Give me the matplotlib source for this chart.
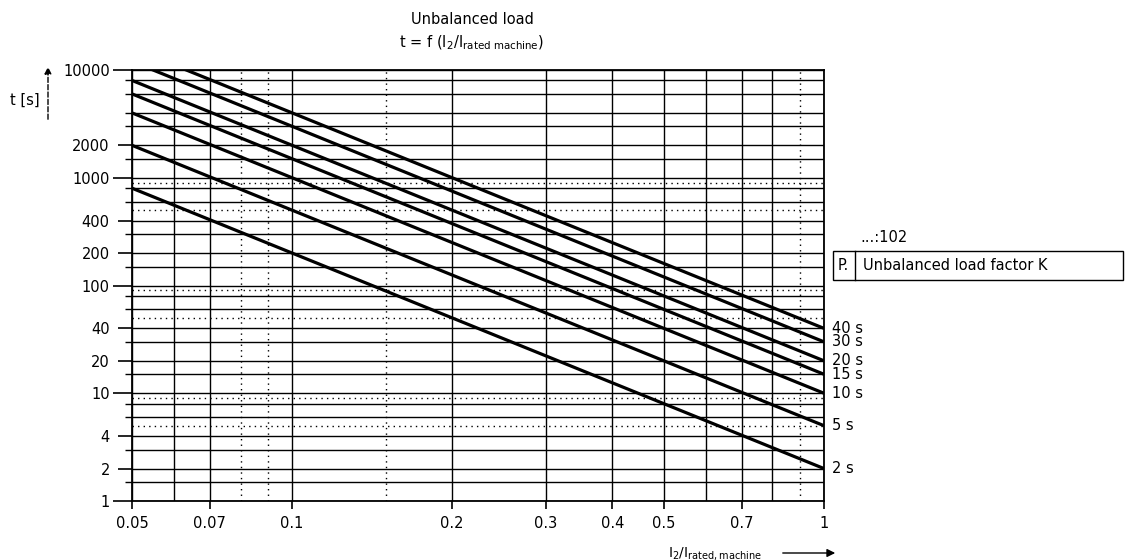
import numpy as np
import matplotlib.pyplot as plt
from matplotlib.patches import Rectangle
from matplotlib.lines import Line2D

plt.rcParams['font.family'] = ['DejaVu Sans']
plt.rcParams['mathtext.default'] = 'regular'

# curves: t = K / (I2/In)^2, end points
x_ends = [0.05, 1.0]
factors = [2, 5, 10, 15, 20, 30, 40]
t_left = [800, 2000, 4000, 6000, 8000, 12000, 16000]
t_right = [2, 5, 10, 15, 20, 30, 40]
curve_labels = ['2 s', '5 s', '10 s', '15 s', '20 s', '30 s', '40 s']

y_labeled = [1, 2, 4, 10, 20, 40, 100, 200, 400, 1000, 2000, 10000]
y_long = [1, 10, 100, 1000, 10000]
y_grid = [1.5, 3, 6, 8, 15, 30, 60, 80, 150, 300, 600, 800, 1500, 3000, 4000, 6000, 8000]
y_grid_dotted = [5, 9, 50, 90, 500, 900]

x_labeled = [0.05, 0.07, 0.1, 0.2, 0.3, 0.4, 0.5, 0.7, 1]
x_tick_text = ['0.05', '0.07', '0.1', '0.2', '0.3', '0.4', '0.5', '0.7', '1']
x_grid = [0.06, 0.6, 0.8]
x_grid_dotted = [0.08, 0.09, 0.15, 0.9]

W, H = 1128, 560
fig = plt.figure(figsize=(W / 100, H / 100), dpi=100)
ax = fig.add_axes([132 / W, 1 - 501 / H, (824 - 132) / W, (501 - 70) / H])


def px(x, y):
    return x / W, 1 - y / H


ax.set_xscale('log')
ax.set_yscale('log')
ax.set_xlim(0.05, 1)
ax.set_ylim(1, 10000)

# grid
for v in y_labeled + y_grid:
    ax.axhline(v, color='black', lw=1.0, zorder=1)
for v in y_grid_dotted:
    ax.axhline(v, color='black', lw=1.0, ls=(0, (1, 3)), zorder=1)
for v in x_labeled + x_grid:
    ax.axvline(v, color='black', lw=1.0, zorder=1)
for v in x_grid_dotted:
    ax.axvline(v, color='black', lw=1.0, ls=(0, (1, 3)), zorder=1)

# curves
for tl, tr, lab in zip(t_left, t_right, curve_labels):
    ax.plot(x_ends, [tl, tr], color='black', lw=2.3, solid_capstyle='butt', zorder=3)
    ax.text(1.012, tr, lab, transform=ax.get_yaxis_transform(), fontsize=10.5,
            va='center', ha='left')

for s in ax.spines.values():
    s.set_linewidth(1.3)

# ticks
ax.yaxis.set_major_locator(plt.FixedLocator(y_labeled))
ax.yaxis.set_minor_locator(plt.FixedLocator(y_grid))
ax.set_yticklabels([str(v) for v in y_labeled], fontsize=10.5)
ax.yaxis.set_minor_formatter(plt.NullFormatter())
ax.tick_params(axis='y', which='major', length=14, width=1.2, pad=2)
ax.tick_params(axis='y', which='minor', length=5, width=1.0)
for t, v in zip(ax.yaxis.get_major_ticks(), y_labeled):
    if v not in y_long:
        t.tick1line.set_markersize(10)

ax.xaxis.set_major_locator(plt.FixedLocator(x_labeled))
ax.xaxis.set_minor_locator(plt.NullLocator())
ax.set_xticklabels(x_tick_text, fontsize=10.5)
ax.tick_params(axis='x', which='major', length=6, width=1.2, pad=5)

# titles
fig.text(*px(472, 20), 'Unbalanced load', ha='center', va='center', fontsize=10.5)
fig.text(*px(472, 43), 't = f (I$_2$/I$_{rated\\ machine}$)', ha='center', va='center',
         fontsize=10.5)

# y-axis label with arrow
fig.text(*px(10, 100), 't [s]', ha='left', va='center', fontsize=10.5)
ax.annotate('', xy=px(48, 64), xytext=px(48, 122), xycoords='figure fraction',
            textcoords='figure fraction',
            arrowprops=dict(arrowstyle='-|>', color='black', lw=1.0, ls='--',
                            mutation_scale=10))

# x-axis label with arrow
fig.text(*px(668, 553), 'I$_2$/I$_{rated,machine}$', ha='left', va='center', fontsize=10)
ax.annotate('', xy=px(838, 553), xytext=px(780, 553), xycoords='figure fraction',
            textcoords='figure fraction',
            arrowprops=dict(arrowstyle='-|>', color='black', lw=1.0, mutation_scale=12))

# parameter box
fig.text(*px(860, 237), '...:102', ha='left', va='center', fontsize=10.5)
bx0, by0 = px(833, 280)
bx1, by1 = px(1123, 251)
fig.add_artist(Rectangle((bx0, by0), bx1 - bx0, by1 - by0, transform=fig.transFigure,
                         fill=False, ec='black', lw=1.0))
fig.add_artist(Line2D([855 / W, 855 / W], [by0, by1], transform=fig.transFigure,
                      color='black', lw=1.0))
fig.text(*px(838, 266), 'P.', ha='left', va='center', fontsize=10.5)
fig.text(*px(863, 266), 'Unbalanced load factor K', ha='left', va='center', fontsize=10.5)

fig.savefig('out.png', dpi=100, facecolor='white')
